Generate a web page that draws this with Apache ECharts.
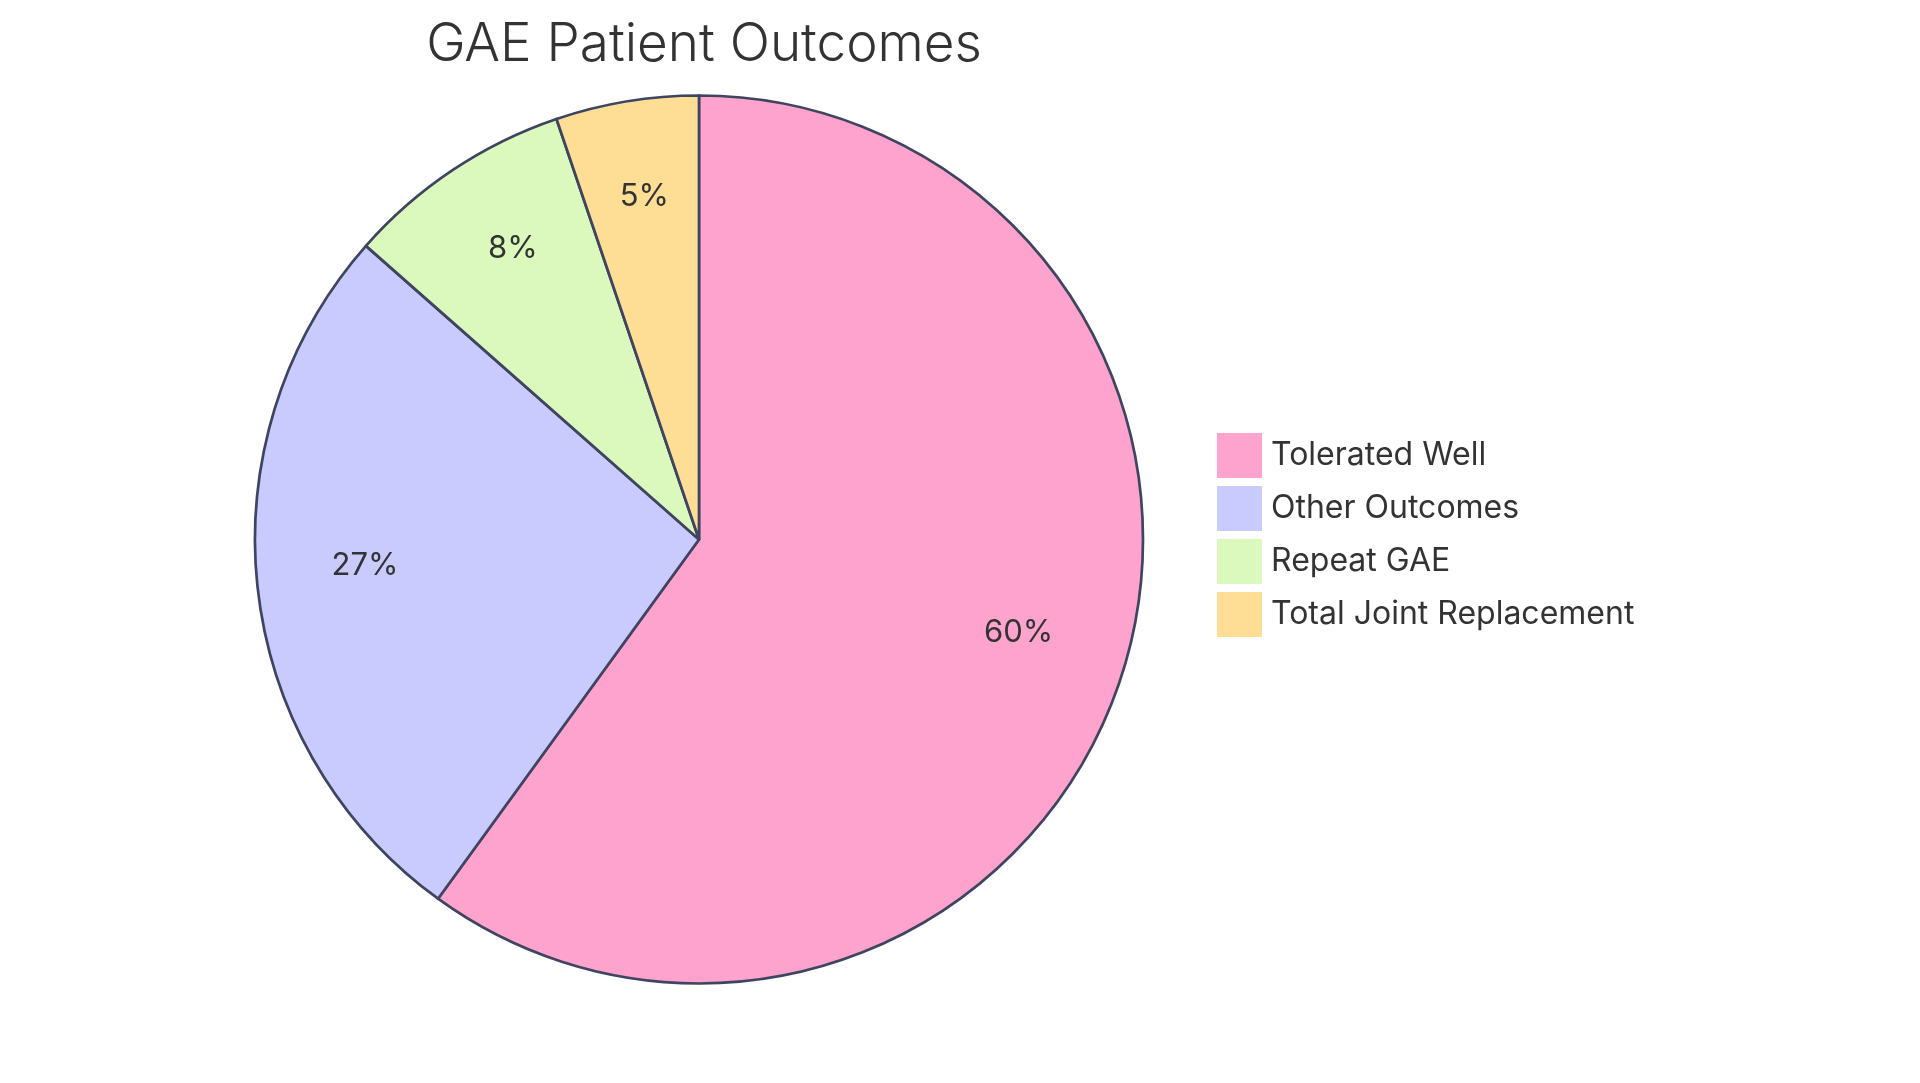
<!DOCTYPE html>
<html>
<head>
<meta charset="utf-8">
<script src="https://cdn.jsdelivr.net/npm/echarts@6/dist/echarts.min.js"></script>
<style>
  html, body { margin: 0; padding: 0; background: #fff; }
  #main { width: 1920px; height: 1083px; }
</style>
</head>
<body>
<div id="main"></div>
<script>
// outcome shares
var categories = ['Tolerated Well', 'Other Outcomes', 'Repeat GAE', 'Total Joint Replacement'];
var values = [60, 26.5, 8.3, 5.2];
var colors = ['#fea3cd', '#c9cafe', '#dbf9bd', '#fedd94'];

var sliceData = categories.map(function (name, i) {
  return { name: name, value: values[i], itemStyle: { color: colors[i] } };
});

var total = values.reduce(function (a, b) { return a + b; }, 0);
var font = 'Inter, "Noto Sans", sans-serif';

var myChart = echarts.init(document.getElementById('main'), null, { renderer: 'canvas' });
myChart.setOption({
  animation: false,
  title: {
    text: 'GAE Patient Outcomes',
    left: 699,
    textAlign: 'center',
    top: 14,
    textStyle: { fontFamily: font, fontSize: 53, fontWeight: 300, color: '#333' }
  },
  legend: {
    orient: 'vertical',
    left: 1217,
    top: 433,
    padding: 0,
    icon: 'rect',
    itemWidth: 45,
    itemHeight: 45,
    itemGap: 8,
    itemStyle: { borderWidth: 0 },
    textStyle: { fontFamily: font, fontSize: 32, color: '#333', padding: [0, 0, 0, 4] },
    data: categories
  },
  series: [
    {
      type: 'pie',
      center: [699, 539.5],
      radius: [0, 444],
      startAngle: 90,
      clockwise: true,
      label: { show: false },
      labelLine: { show: false },
      emphasis: { disabled: true },
      itemStyle: { borderColor: '#3f4460', borderWidth: 2.7 },
      data: sliceData
    },
    {
      // transparent ring just to place percentage labels at 3/4 radius
      type: 'pie',
      center: [699, 539.5],
      radius: [222, 444],
      startAngle: 90,
      clockwise: true,
      silent: true,
      itemStyle: { color: 'rgba(0,0,0,0)', borderWidth: 0 },
      label: {
        show: true,
        position: 'inside',
        formatter: function (p) { return '{v|' + Math.round(p.value / total * 100) + '%}\n{s|}'; },
        rich: {
          v: { fontFamily: font, fontSize: 31, color: '#333', lineHeight: 31 },
          s: { height: 22, lineHeight: 22 }
        }
      },
      labelLine: { show: false },
      emphasis: { disabled: true },
      data: categories.map(function (name, i) { return { name: name, value: values[i] }; })
    }
  ]
});
</script>
</body>
</html>
